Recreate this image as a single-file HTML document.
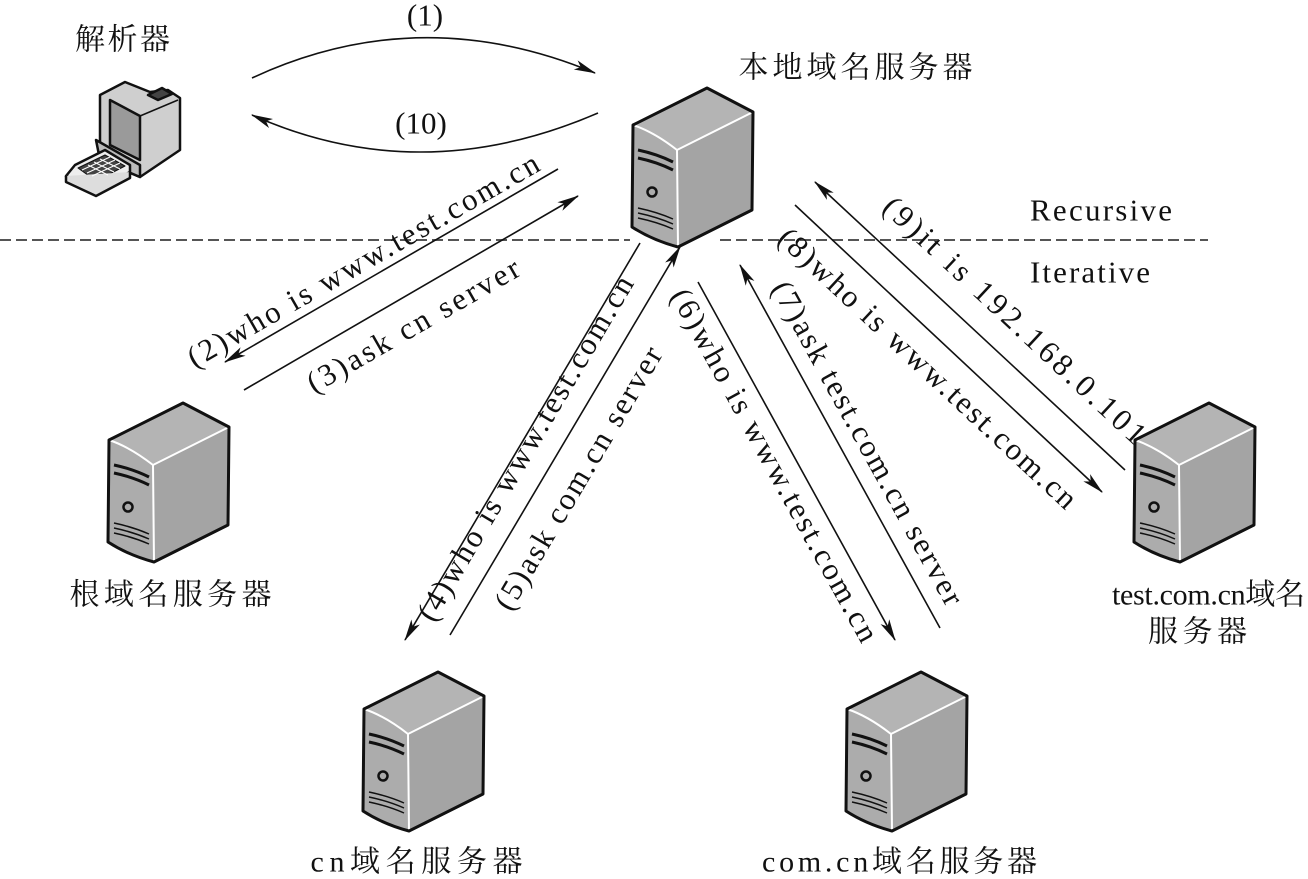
<!DOCTYPE html>
<html><head><meta charset="utf-8"><style>
html,body{margin:0;padding:0;background:#fff;}
svg{display:block;}
.t{font-family:"Liberation Serif",serif;font-size:31px;fill:#111;}
.c{font-family:"Liberation Serif","Noto Serif CJK SC",serif;font-size:30px;fill:#111;letter-spacing:3px;}
</style></head><body>
<svg width="1308" height="879" viewBox="0 0 1308 879" xmlns="http://www.w3.org/2000/svg">
<defs>
<marker id="ah2" viewBox="0 0 20 10" refX="19" refY="5" markerWidth="22" markerHeight="11" markerUnits="userSpaceOnUse" orient="auto">
<path d="M0,0.5 L20,5 L0,9.5 L5,5 Z" fill="#111"/></marker>
<g id="srv">
<path d="M45,62 L121,24 L120,122 L46,159 Z" fill="#a4a4a4"/>
<path d="M1,37 Q22,44 45,62 L46,159 Q20,152 0,139 Z" fill="#acacac"/>
<path d="M1,37 L75,0 L121,24 L45,62 Q22,44 1,37 Z" fill="#b4b4b4"/>
<path d="M1,37 Q22,44 45,62 L121,24 M45,62 L46,159" fill="none" stroke="#fff" stroke-width="2"/>
<path d="M1,37 L75,0 L121,24 L120,122 L46,159 Q20,152 0,139 Z" fill="none" stroke="#111" stroke-width="3" stroke-linejoin="round"/>
<path d="M6,62 Q25,66 41,74 M6,70 Q25,74 41,82" fill="none" stroke="#111" stroke-width="3"/>
<circle cx="20" cy="104" r="4.5" fill="none" stroke="#111" stroke-width="2.5"/>
<path d="M6,120 Q25,124 41,131 M6,125 Q25,129 41,136 M6,130 Q25,134 41,141" fill="none" stroke="#111" stroke-width="1.5"/>
</g>
</defs>

<line x1="0" y1="240" x2="1208" y2="240" stroke="#555" stroke-width="2" stroke-dasharray="11 5"/>
<rect x="630" y="236" width="88" height="8" fill="#fff"/>

<use href="#srv" x="632" y="88"/>
<use href="#srv" x="108" y="403"/>
<use href="#srv" x="363" y="672"/>
<use href="#srv" x="846" y="672"/>
<use href="#srv" x="1134" y="403"/>

<g stroke="#111" stroke-width="2.5" stroke-linejoin="round">
<path d="M100,95 L125,82 L150,92 L168,90 L180,98 L180,150 L140,177 L100,160 Z" fill="#cfcfcf"/>
<path d="M110,100 L140,116 L140,160 L110,145 Z" fill="#9a9a9a"/>
<path d="M140,116 L178,100" fill="none" stroke-width="1.5"/>
<path d="M148,95 L162,88 L172,94 L158,100 Z" fill="#444"/>
<path d="M96,140 L100,160 L140,177 L140,165 Z" fill="#bbb"/>
<path d="M75,165 L105,150 L130,165 L130,172 L96,190 L66,176 Z" fill="#eee"/>
<path d="M78,168 L105,155 L125,166 L96,181 Z" fill="#444" stroke-width="1"/>
<path d="M66,176 L66,182 L96,196 L130,178 L130,172" fill="#ddd"/>
</g>
<g stroke="#fff" stroke-width="1">
<path d="M82,170 L110,157 M87,173 L115,160 M92,176 L120,163 M88,165 L108,175 M94,162 L114,172 M100,159 L120,169"/>
</g>

<g fill="none" stroke="#111" stroke-width="1.6">
<path d="M252,78 Q420,0 595,73" marker-end="url(#ah2)"/>
<path d="M598,113 Q420,190 252,115" marker-end="url(#ah2)"/>
<line x1="558" y1="169" x2="225" y2="362" marker-end="url(#ah2)"/>
<line x1="244" y1="390" x2="578" y2="196" marker-end="url(#ah2)"/>
<line x1="640" y1="243" x2="405" y2="640" marker-end="url(#ah2)"/>
<line x1="450" y1="635" x2="680" y2="247" marker-end="url(#ah2)"/>
<line x1="698" y1="282" x2="895" y2="640" marker-end="url(#ah2)"/>
<line x1="940" y1="628" x2="740" y2="265" marker-end="url(#ah2)"/>
<line x1="795" y1="205" x2="1102" y2="492" marker-end="url(#ah2)"/>
<line x1="1125" y1="470" x2="815" y2="182" marker-end="url(#ah2)"/>
</g>

<g class="t" text-anchor="middle" dominant-baseline="central">
<text x="425" y="15">(1)</text>
<text x="421" y="123">(10)</text>
<text x="1101" y="210" textLength="142" lengthAdjust="spacing">Recursive</text>
<text x="1090" y="272" textLength="120" lengthAdjust="spacing">Iterative</text>
<text transform="translate(363,260) rotate(-29.8)" textLength="400" lengthAdjust="spacing">(2)who is www.test.com.cn</text>
<text transform="translate(413,325) rotate(-29.8)" textLength="240" lengthAdjust="spacing">(3)ask cn server</text>
<text transform="translate(525,448) rotate(-59.4)" textLength="395" lengthAdjust="spacing">(4)who is www.test.com.cn</text>
<text transform="translate(578,478) rotate(-59.4)" textLength="300" lengthAdjust="spacing">(5)ask com.cn server</text>
<text transform="translate(775,465) rotate(61.2)" textLength="398" lengthAdjust="spacing">(6)who is www.test.com.cn</text>
<text transform="translate(868,443) rotate(61.2)" textLength="365" lengthAdjust="spacing">(7)ask test.com.cn server</text>
<text transform="translate(928,368) rotate(43)" textLength="396" lengthAdjust="spacing">(8)who is www.test.com.cn</text>
<text transform="translate(1015,320) rotate(43)" textLength="347" lengthAdjust="spacing">(9)it is 192.168.0.101</text>
</g>
<g class="c" text-anchor="middle" dominant-baseline="central">
<text x="124" y="40" textLength="98" lengthAdjust="spacing">解析器</text>
<text x="857" y="68" textLength="237" lengthAdjust="spacing">本地域名服务器</text>
<text x="172" y="595" textLength="205" lengthAdjust="spacing">根域名服务器</text>
<text x="418" y="862" textLength="215" lengthAdjust="spacing">cn域名服务器</text>
<text x="901" y="862" textLength="278" lengthAdjust="spacing">com.cn域名服务器</text>
<text x="1210" y="595" textLength="196" lengthAdjust="spacing">test.com.cn域名</text>
<text x="1199" y="632" textLength="102" lengthAdjust="spacing">服务器</text>
</g>
</svg>
</body></html>
